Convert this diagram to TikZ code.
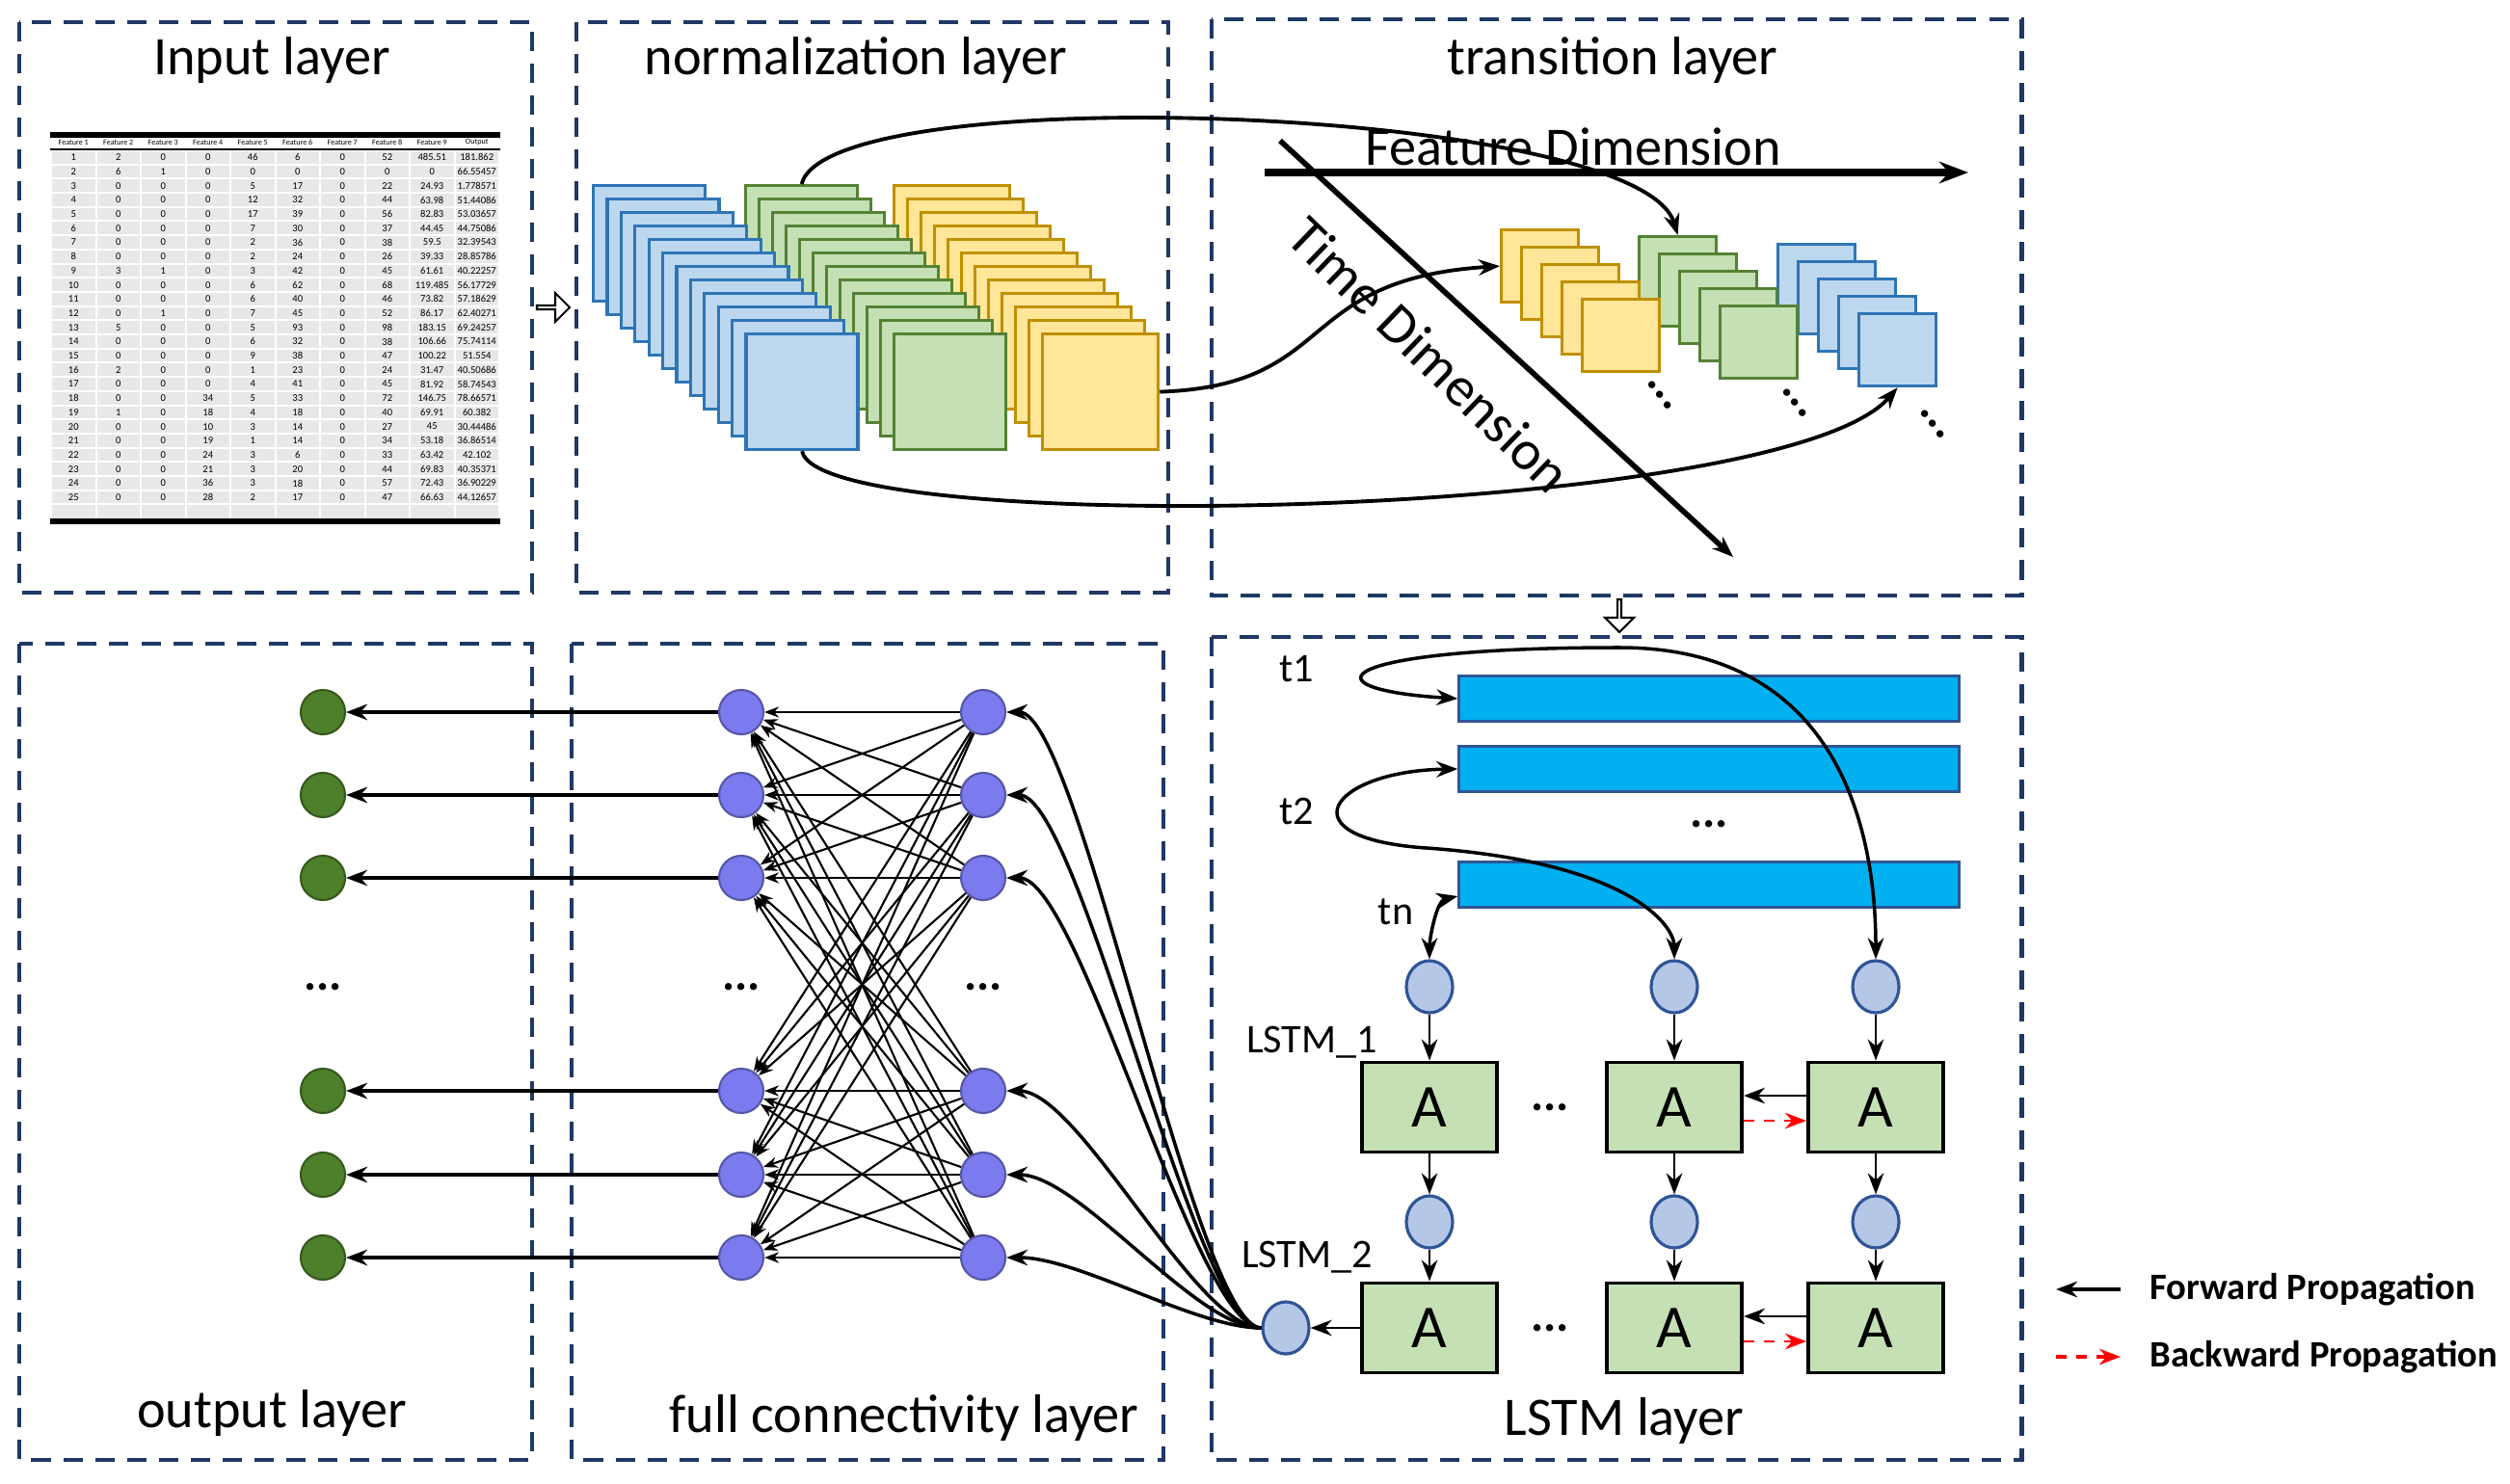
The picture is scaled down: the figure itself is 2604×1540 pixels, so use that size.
\documentclass[tikz,border=0pt]{standalone}
\usepackage{fontspec}
\setmainfont{Carlito}
\usetikzlibrary{arrows.meta,shapes.arrows,shapes.geometric}
\definecolor{panel}{HTML}{1F3864}
\definecolor{bluef}{HTML}{BDD7EE}\definecolor{bluel}{HTML}{2E75B6}
\definecolor{greenf}{HTML}{C5E0B4}\definecolor{greenl}{HTML}{548235}
\definecolor{yellowf}{HTML}{FFE699}\definecolor{yellowl}{HTML}{BF9000}
\definecolor{bar}{HTML}{00B0F0}\definecolor{barl}{HTML}{2F5597}
\definecolor{cellf}{HTML}{B4C7E7}\definecolor{fcf}{HTML}{7B7BEF}
\definecolor{outf}{HTML}{4E7F2A}
\tikzset{
  layer/.style={draw=panel, line width=1.4pt, dash pattern=on 5.7pt off 3.7pt},
  title/.style={font=\fontsize{16}{18}\selectfont},
  sheet/.style={draw=#1l, fill=#1f, line width=0.9pt, anchor=north west, inner sep=0pt},
  cell/.style={draw=black, fill=greenf, line width=1.1pt, minimum width=1.4cm, minimum height=0.93cm, font=\fontsize{18}{20}\selectfont},
  unit/.style={ellipse, draw=barl, fill=cellf, line width=0.9pt, minimum width=0.48cm, minimum height=0.54cm, inner sep=0pt},
  neuron/.style={circle, draw=#1!70!black, fill=#1, line width=0.6pt, minimum size=0.46cm, inner sep=0pt},
  slice/.style={draw=barl, fill=bar, line width=0.9pt, minimum width=5.18cm, minimum height=0.47cm, inner sep=0pt},
  dots/.style={font=\fontsize{14}{14}\selectfont\bfseries},
  lbl/.style={font=\fontsize{12}{14}\selectfont},
  hollow/.style={single arrow, draw=black, fill=white, line width=0.6pt, minimum width=0.3cm, minimum height=0.34cm, single arrow head extend=0.07cm, inner sep=0pt},
  >={Stealth[length=2.2mm]}
}
\begin{document}
\begin{tikzpicture}[x=0.01cm, y=-0.01cm]
    \useasboundingbox (0,0) rectangle (2604,1540);

    % Panels
    \draw[layer] (20,23) rectangle (552,615);
    \draw[layer] (598,23) rectangle (1212,615);
    \draw[layer] (1257,20) rectangle (2097,618);
    \draw[layer] (20,668) rectangle (552,1515);
    \draw[layer] (593,668) rectangle (1207,1515);
    \draw[layer] (1257,661) rectangle (2097,1515);

    % Titles
    \node[title] (tin) at (282,63) {Input layer};
    \node[title] (tnorm) at (888,63) {normalization layer};
    \node[title] (ttrans) at (1673,63) {transition layer};
    \node[title] (tout) at (282,1466) {output layer};
    \node[title] (tfc) at (938,1471) {full connectivity layer};
    \node[title] (tlstm) at (1685,1474) {LSTM layer};

    % Input table
    \foreach \j [count=\c] in {Feature 1,Feature 2,Feature 3,Feature 4,Feature 5,Feature 6,Feature 7,Feature 8,Feature 9,Output}
        \node[font=\fontsize{2.3}{3}\selectfont, inner sep=0pt] at ({53+46.5*(\c-0.5)},148) {\j};
    \foreach \row [count=\i] in {
        {1,2,0,0,46,6,0,52,485.51,181.862},{2,6,1,0,0,0,0,0,0,66.55457},
        {3,0,0,0,5,17,0,22,24.93,1.778571},{4,0,0,0,12,32,0,44,63.98,51.44086},
        {5,0,0,0,17,39,0,56,82.83,53.03657},{6,0,0,0,7,30,0,37,44.45,44.75086},
        {7,0,0,0,2,36,0,38,59.5,32.39543},{8,0,0,0,2,24,0,26,39.33,28.85786},
        {9,3,1,0,3,42,0,45,61.61,40.22257},{10,0,0,0,6,62,0,68,119.485,56.17729},
        {11,0,0,0,6,40,0,46,73.82,57.18629},{12,0,1,0,7,45,0,52,86.17,62.40271},
        {13,5,0,0,5,93,0,98,183.15,69.24257},{14,0,0,0,6,32,0,38,106.66,75.74114},
        {15,0,0,0,9,38,0,47,100.22,51.554},{16,2,0,0,1,23,0,24,31.47,40.50686},
        {17,0,0,0,4,41,0,45,81.92,58.74543},{18,0,0,34,5,33,0,72,146.75,78.66571},
        {19,1,0,18,4,18,0,40,69.91,60.382},{20,0,0,10,3,14,0,27,45,30.44486},
        {21,0,0,19,1,14,0,34,53.18,36.86514},{22,0,0,24,3,6,0,33,63.42,42.102},
        {23,0,0,21,3,20,0,44,69.83,40.35371},{24,0,0,36,3,18,0,57,72.43,36.90229},
        {25,0,0,28,2,17,0,47,66.63,44.12657}}{
        \foreach \v [count=\c] in \row {
            \fill[gray!18] ({53+46.5*(\c-1)+1},{156+14.7*(\i-1)+1}) rectangle ++(44.5,12.7);
            \node[font=\fontsize{3}{3.5}\selectfont, inner sep=0pt] at ({53+46.5*(\c-0.5)},{156+14.7*(\i-0.5)}) {\v};
        }
    }
    \foreach \c in {1,...,10}
        \fill[gray!18] ({53+46.5*(\c-1)+1},524) rectangle ++(44.5,14);
    \draw[line width=1.6pt] (52,140) -- (519,140);
    \draw[line width=0.8pt] (52,155) -- (519,155);
    \draw[line width=1.6pt] (52,541) -- (519,541);

    \node[hollow] (ain) at (573,319) {};

    % Normalization stacks
    \foreach \i in {0,...,11}
        \node[sheet=yellow, minimum width=1.2cm, minimum height=1.2cm] (ny\i) at ({926+14*\i},{191+14*\i}) {};
    \foreach \i in {0,...,11}
        \node[sheet=green, minimum width=1.16cm, minimum height=1.2cm] (ng\i) at ({772+14*\i},{191+14*\i}) {};
    \foreach \i in {0,...,11}
        \node[sheet=blue, minimum width=1.16cm, minimum height=1.2cm] (nb\i) at ({614+14.4*\i},{191+14*\i}) {};

    % Transition stacks
    \foreach \i in {0,...,4}
        \node[sheet=blue, minimum width=0.8cm, minimum height=0.75cm] (tb\i) at ({1843+21*\i},{252+18*\i}) {};
    \foreach \i in {0,...,4}
        \node[sheet=green, minimum width=0.8cm, minimum height=0.75cm] (tg\i) at ({1699+21*\i},{244+18*\i}) {};
    \foreach \i in {0,...,4}
        \node[sheet=yellow, minimum width=0.8cm, minimum height=0.75cm] (ty\i) at ({1556+21*\i},{237+18*\i}) {};
    \node[dots, rotate=-52] (dy) at (1722,410) {...};
    \node[dots, rotate=-52] (dg) at (1862,418) {...};
    \node[dots, rotate=-52] (db) at (2005,440) {...};

    % Dimension axes
    \coordinate (fd0) at (1312,179);
    \coordinate (fd1) at (2042,179);
    \coordinate (td0) at (1328,146);
    \coordinate (td1) at (1798,578);
    \draw[-{Stealth[length=3mm]}, line width=2.4pt] (fd0) -- (fd1);
    \draw[->, line width=1.6pt] (td0) -- (td1);
    \node[title, font=\fontsize{16}{18}\selectfont] (flbl) at (1632,152) {Feature Dimension};
    \node[title, font=\fontsize{16.5}{18}\selectfont, rotate=-44] (tlbl) at (1483,368) {Time Dimension};

    \draw[->, line width=1.1pt] (ng0.north) .. controls (860,80) and (1700,110) .. (tg0.north);
    \draw[->, line width=1.1pt] (ny11.east) .. controls (1390,400) and (1340,290) .. (ty0.west);
    \draw[->, line width=1.1pt] (nb11.south) .. controls (850,560) and (1850,540) .. (tb4.south);

    \node[hollow, rotate=-90] (adown) at (1680,638) {};

    % LSTM layer
    \node[slice] (b1) at (1773,725) {};
    \node[slice] (b2) at (1773,798) {};
    \node[slice] (b3) at (1773,918) {};
    \node[dots] (bd) at (1773,855) {...};
    \node[lbl] (t1) at (1345,694) {t1};
    \node[lbl] (t2) at (1345,842) {t2};
    \node[lbl] (tn) at (1448,946) {tn};
    \node[lbl] (l1) at (1361,1082) {LSTM\_1};
    \node[lbl] (l2) at (1356,1305) {LSTM\_2};

    \foreach \x [count=\j] in {1483,1737,1946} {
        \node[unit] (c1\j) at (\x,1024) {};
        \node[cell] (a1\j) at (\x,1149) {A};
        \node[unit] (c2\j) at (\x,1268) {};
        \node[cell] (a2\j) at (\x,1378) {A};
        \draw[->, line width=0.8pt] (c1\j) -- (a1\j);
        \draw[->, line width=0.8pt] (a1\j) -- (c2\j);
        \draw[->, line width=0.8pt] (c2\j) -- (a2\j);
    }
    \node[dots] (d1) at (1608,1149) {...};
    \node[dots] (d2) at (1608,1378) {...};
    \foreach \r in {1,2} {
        \draw[->, line width=0.8pt] ([yshift=0.12cm]a\r3.west) -- ([yshift=0.12cm]a\r2.east);
        \draw[->, red, line width=0.8pt, dashed] ([yshift=-0.14cm]a\r2.east) -- ([yshift=-0.14cm]a\r3.west);
    }
    \node[unit] (o) at (1334,1378) {};
    \draw[->, line width=0.8pt] (a21) -- (o);

    \coordinate (top) at (1680,672);
    \draw[->, line width=1pt] (top) .. controls (1380,672) and (1350,715) .. (b1.west);
    \draw[->, line width=1pt] (top) .. controls (1900,672) and (1946,850) .. (c13.north);
    \draw[<->, line width=1pt] (b2.west) .. controls (1380,800) and (1330,870) .. (1480,880)
        .. controls (1690,895) and (1737,960) .. (c12.north);
    \draw[<->, line width=1pt] ([yshift=-0.12cm]b3.west) .. controls (1490,935) and (1483,975) .. (c11.north);

    % Output and full connectivity layers
    \foreach \y [count=\k] in {739,825,911,1132,1219,1305} {
        \node[neuron=outf] (g\k) at (335,\y) {};
        \node[neuron=fcf] (l\k) at (769,\y) {};
        \node[neuron=fcf] (r\k) at (1020,\y) {};
        \draw[->, line width=1pt] (l\k) -- (g\k);
        \draw[->, line width=1pt] (o.west) .. controls (1240,1378) and (1120,\y) .. (r\k.east);
    }
    \foreach \k in {1,...,6}
        \foreach \m in {1,...,6}
            \draw[-{Stealth[length=1.5mm]}, line width=0.6pt] (r\m) -- (l\k);
    \node[dots] (dg) at (335,1024) {...};
    \node[dots] (dl) at (769,1024) {...};
    \node[dots] (dr) at (1020,1024) {...};

    % Legend
    \coordinate (f0) at (2200,1338);
    \coordinate (f1) at (2133,1338);
    \coordinate (k0) at (2133,1408);
    \coordinate (k1) at (2200,1408);
    \draw[->, line width=1pt] (f0) -- (f1);
    \draw[->, red, dashed, line width=1pt] (k0) -- (k1);
    \node[lbl, anchor=west, font=\fontsize{11}{13}\selectfont\bfseries] (fwd) at (2218,1338) {Forward Propagation};
    \node[lbl, anchor=west, font=\fontsize{11}{13}\selectfont\bfseries] (bwd) at (2218,1408) {Backward Propagation};
\end{tikzpicture}
\end{document}
